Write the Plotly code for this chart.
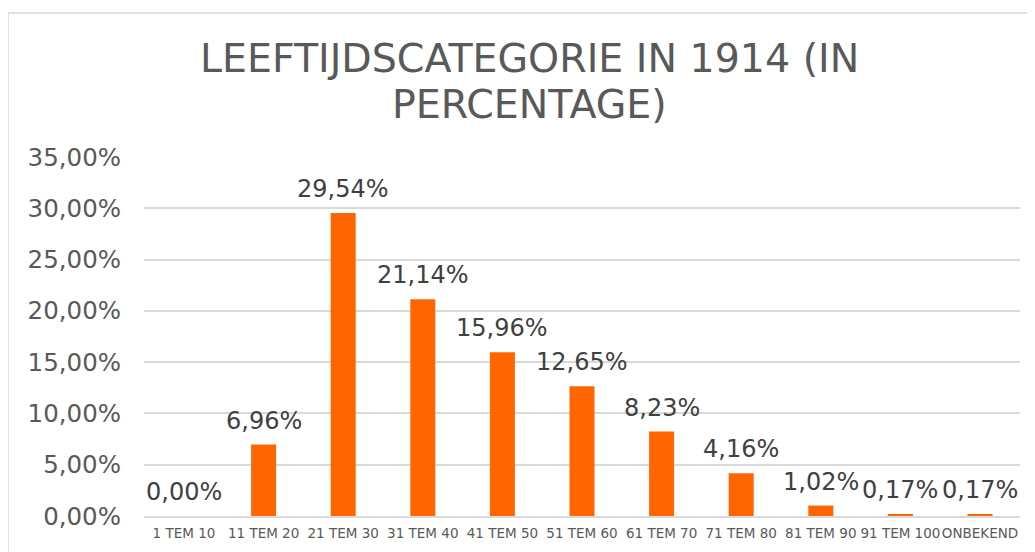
import plotly.graph_objects as go

categories = ["1 TEM 10", "11 TEM 20", "21 TEM 30", "31 TEM 40", "41 TEM 50",
              "51 TEM 60", "61 TEM 70", "71 TEM 80", "81 TEM 90", "91 TEM 100", "ONBEKEND"]
values = [0.0, 0.0696, 0.2954, 0.2114, 0.1596, 0.1265, 0.0823, 0.0416, 0.0102, 0.0017, 0.0017]
title_lines = ["LEEFTIJDSCATEGORIE IN 1914 (IN", "PERCENTAGE)"]

OFF = 8  # default page body margin
W, H = 1035 - OFF, 552 - OFF
L, R, T, B = 144 - OFF, 15, 157 - OFF, 36
pw, ph = W - L - R, H - T - B

def px(x):  # page pixel -> paper x
    return (x - OFF - L) / pw

def py(y):  # page pixel -> paper y
    return (T + ph - (y - OFF)) / ph

fig = go.Figure(go.Bar(
    x=categories, y=values,
    marker=dict(color="#FF6600", line=dict(width=0)),
    cliponaxis=False,
))

annotations = []
for c, v in zip(categories, values):
    annotations.append(dict(
        x=c, y=v, xref="x", yref="y", text=f"{v * 100:.2f}%".replace(".", ","),
        showarrow=False, xanchor="center", yanchor="bottom", yshift=8,
        font=dict(family="DejaVu Sans", size=24, color="#404040")))

for i, line in enumerate(title_lines):
    annotations.append(dict(
        text=line, xref="paper", yref="paper",
        x=px(529), y=py(33 + 46 * i), xanchor="center", yanchor="top",
        showarrow=False, font=dict(family="DejaVu Sans", size=39.5, color="#595959")))

fig.update_layout(
    width=W, height=H,
    margin=dict(l=L, r=R, t=T, b=B, pad=0, autoexpand=False),
    paper_bgcolor="white", plot_bgcolor="white",
    separators=",.",
    font=dict(family="DejaVu Sans", color="#595959"),
    bargap=0.686,
    showlegend=False,
    xaxis=dict(showgrid=False, showline=True, linecolor="#d9d9d9", linewidth=1.5,
               tickfont=dict(size=13.5, color="#595959"), ticks="", ticklabelstandoff=4,
               tickangle=0, automargin=False, fixedrange=True),
    yaxis=dict(range=[0, 0.35], dtick=0.05, tickformat=".2%", showgrid=True,
               gridcolor="#d9d9d9", gridwidth=1.5, zeroline=False, showline=False,
               tickfont=dict(size=24.5, color="#595959"), ticklabelstandoff=22,
               automargin=False),
    annotations=annotations,
    shapes=[dict(type="rect", xref="paper", yref="paper",
                 x0=px(8), x1=px(1045), y0=py(570), y1=py(13),
                 line=dict(color="#d9d9d9", width=1.5), layer="below")],
)

fig.write_html("out.html")
